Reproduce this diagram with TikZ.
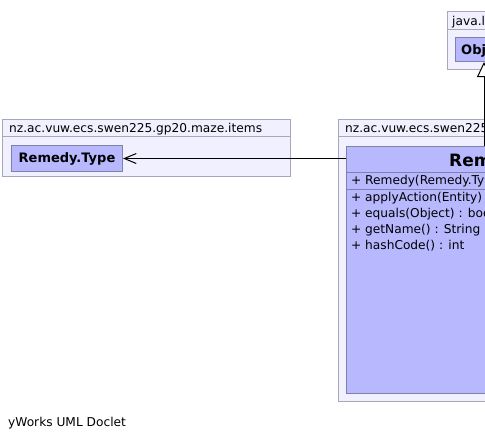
\documentclass[tikz,border=0pt]{standalone}
\usepackage{fontspec}
\setmainfont{DejaVu Sans}
\usetikzlibrary{arrows.meta}
\definecolor{pkgfill}{RGB}{240,240,255}
\definecolor{pkgline}{RGB}{168,168,184}
\definecolor{clsfill}{RGB}{184,184,255}
\definecolor{clsline}{RGB}{128,128,168}
\newcommand{\vis}[1]{\makebox[14pt][l]{#1}}
\begin{document}
\begin{tikzpicture}[x=1pt,y=-1pt,
  pkg/.style={draw=pkgline,fill=pkgfill,line width=1pt,inner sep=0pt,anchor=north west},
  cls/.style={draw=clsline,fill=clsfill,line width=1pt,inner sep=0pt,anchor=north west},
  txt/.style={inner sep=0pt,anchor=base west,font=\fontsize{12.2}{14}\selectfont},
  btxt/.style={inner sep=0pt,font=\fontsize{13}{15}\selectfont\bfseries},
  dep/.style={line width=1pt,-{Straight Barb[length=12pt,width=10pt]}},
  inh/.style={line width=1pt,-{Triangle[open,length=15pt,width=14pt,fill=white]}}]
\useasboundingbox (0,0) rectangle (485,439);
\clip (0,0) rectangle (485,439);
\fill[white] (0,0) rectangle (485,439);
% package items (left)
\node[pkg,minimum width=288pt,minimum height=57pt] (pkgitems) at (2,119) {};
\draw[pkgline,line width=1pt] (pkgitems.north west |- 0,136) -- (pkgitems.north east |- 0,136);
\node[txt] (pkgitemsname) at (9,132) {nz.ac.vuw.ecs.swen225.gp20.maze.items};
\node[cls,minimum width=111pt,minimum height=26pt] (type) at (11,145) {};
\node[btxt,anchor=center] (typename) at (type.center) {Remedy.Type};
% package java.lang
\node[pkg,minimum width=90pt,minimum height=58pt] (pkglang) at (447,11) {};
\draw[pkgline,line width=1pt] (pkglang.north west |- 0,29) -- (pkglang.north east |- 0,29);
\node[txt] (pkglangname) at (452,25) {java.lang};
\node[cls,minimum width=75pt,minimum height=24pt] (object) at (455,37) {};
\node[btxt,anchor=base west] (objectname) at (461,54) {Object};
% package items (right)
\node[pkg,minimum width=200pt,minimum height=282pt] (pkgright) at (338,119) {};
\draw[pkgline,line width=1pt] (pkgright.north west |- 0,136) -- (pkgright.north east |- 0,136);
\node[txt] (pkgrightname) at (345,132) {nz.ac.vuw.ecs.swen225.gp20.maze.items};
\node[cls,minimum width=260pt,minimum height=247pt] (remedy) at (346,146) {};
\draw[clsline,line width=1pt] (remedy.north west |- 0,172) -- (remedy.north east |- 0,172);
\draw[clsline,line width=1pt] (remedy.north west |- 0,189) -- (remedy.north east |- 0,189);
\node[inner sep=0pt,anchor=base west,font=\fontsize{17}{19}\selectfont\bfseries] (remedyname) at (449,166) {Remedy};
\node[txt] (ctor) at (351,184) {\vis{+}Remedy(Remedy.Type)};
\node[txt] (m1) at (351,201) {\vis{+}applyAction(Entity) : void};
\node[txt] (m2) at (351,217) {\vis{+}equals(Object) : boolean};
\node[txt] (m3) at (351,233) {\vis{+}getName() : String};
\node[txt] (m4) at (351,249) {\vis{+}hashCode() : int};
% connectors
\coordinate (inhx) at (484,0);
\draw[inh] (inhx |- remedy.north) -- (inhx |- object.south);
\draw[dep] (remedy.west |- type.east) -- (type.east);
% footer
\node[txt] (footer) at (8,426) {yWorks UML Doclet};
\end{tikzpicture}
\end{document}
